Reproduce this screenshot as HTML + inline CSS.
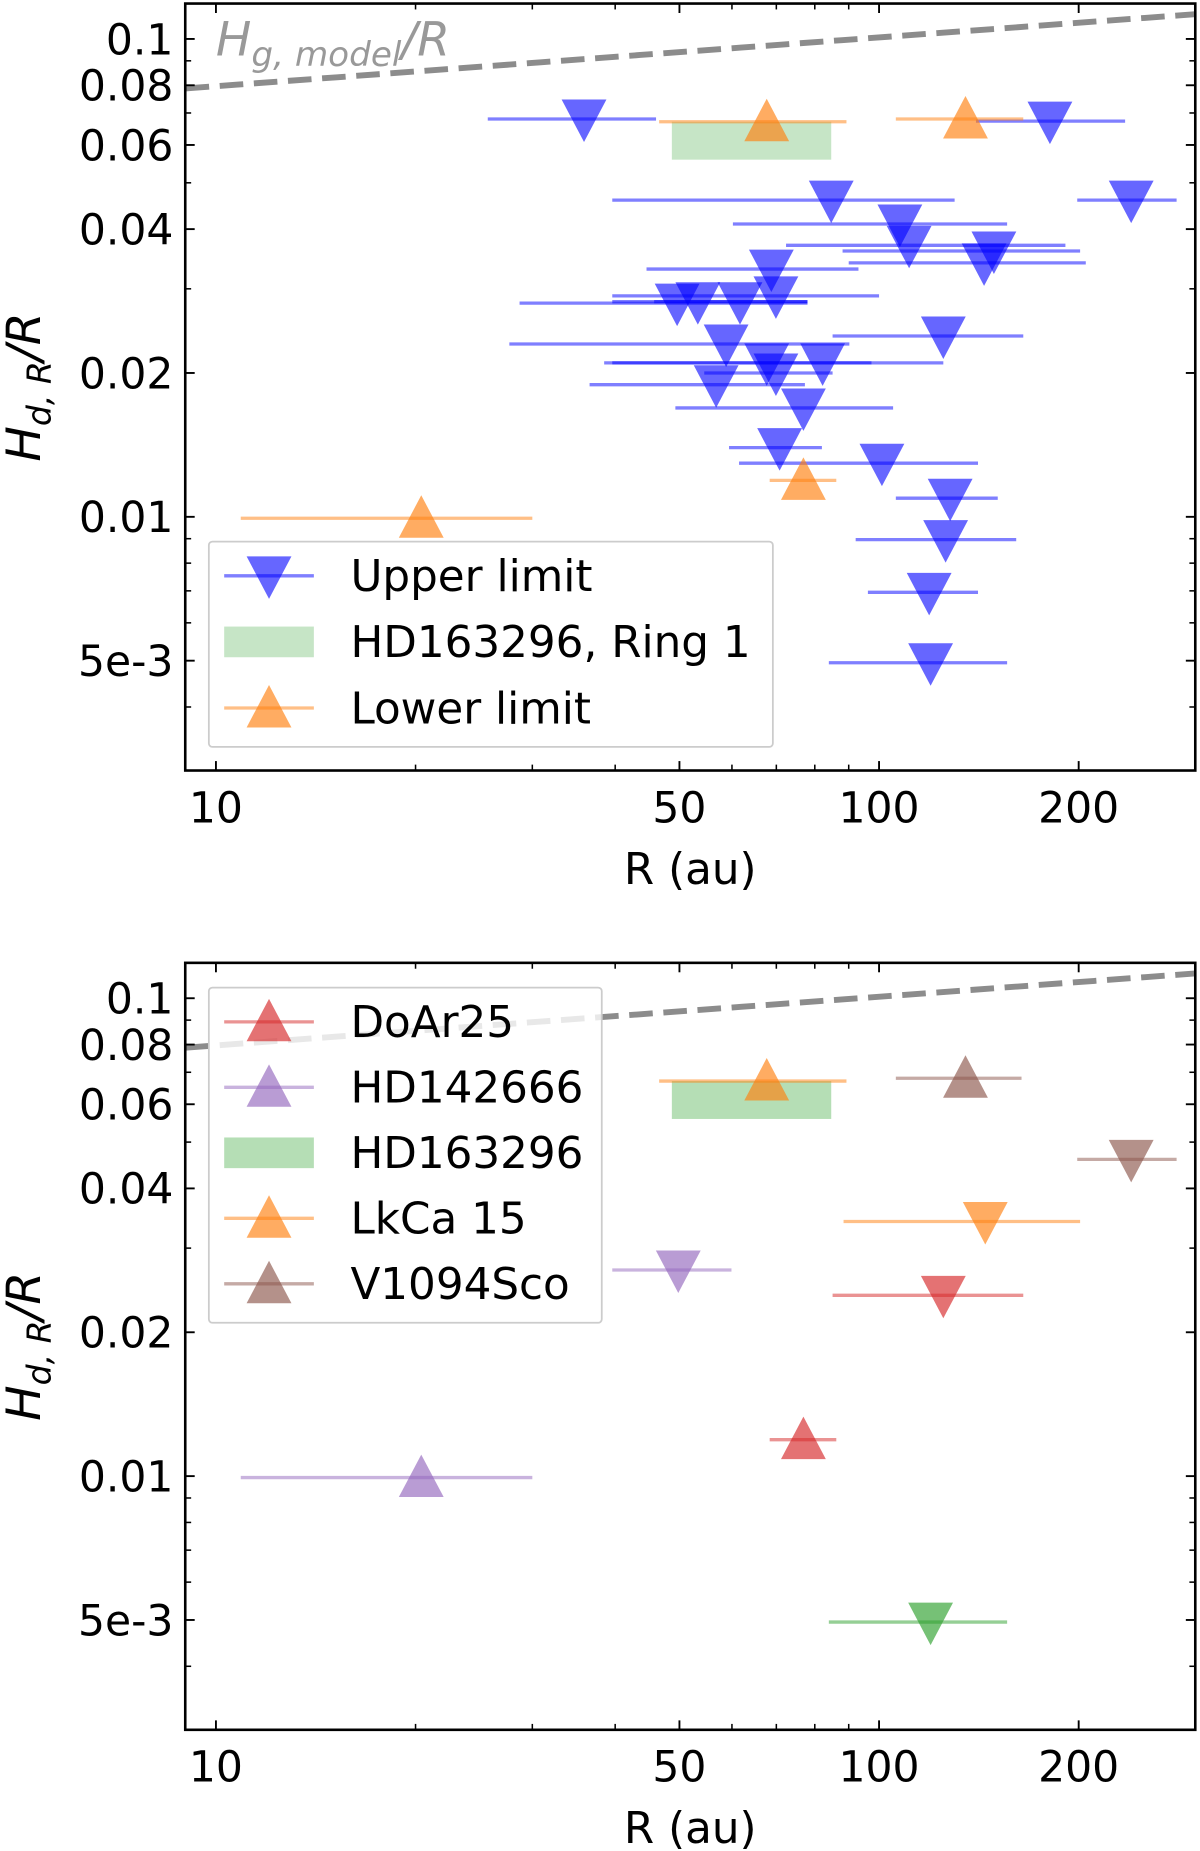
<!DOCTYPE html>
<html><head><meta charset="utf-8"><style>
html,body{margin:0;padding:0;background:#fff;}
svg{display:block;}
text{font-family:"DejaVu Sans","Liberation Sans",sans-serif;}
</style></head><body>
<svg id="fig" width="1200" height="1851" viewBox="0 0 1017 1568.7" xmlns="http://www.w3.org/2000/svg"></svg>
<script>
// ---- data (top panel) ----
const upperR   = [35.9,181,84.7,240,107.5,111,149,144,68.8,69.9,49.6,53.3,61.7,125,58.8,67.7,82.2,69.9,56.8,76.9,70.8,101,128,126,119,119.6];
const upperLo  = [25.7,140,39.6,199,60.2,72.4,88.1,90,44.6,39.6,28.7,39.6,45.8,85.1,27.7,38.5,39.6,54.5,36.6,49.3,59.4,61.5,106,92.2,96.2,84.0];
const upperHi  = [46.1,235,130,281,156,191,201,205,93.1,100,78.0,78.0,78.0,165,90.2,97.4,125,85.1,77.3,105,82.0,141,151,161,141,156];
const upperH   = [0.068,0.0673,0.046,0.046,0.041,0.037,0.036,0.034,0.033,0.029,0.028,0.0282,0.0282,0.0239,0.023,0.021,0.021,0.020,0.0189,0.0169,0.01396,0.01295,0.01094,0.00896,0.00695,0.00495];
const lowerR   = [67.7,135,76.9,20.4];
const lowerLo  = [46.6,106,68.4,10.9];
const lowerHi  = [89.3,165,86.2,30.0];
const lowerH   = [0.0671,0.068,0.01192,0.00993];
const ringR    = [48.7,84.7];
const ringH    = [0.0559,0.0671];
// ---- data (bottom panel) ----
const bNames   = ["DoAr25","DoAr25","HD142666","HD142666","HD163296","LkCa 15","LkCa 15","V1094Sco","V1094Sco"];
const bKind    = ["up","low","up","low","up","low","up","low","up"];
const bR       = [125,76.9,49.8,20.4,119.6,67.7,144.6,135,240];
const bLo      = [85.1,68.4,39.6,10.9,84.0,46.6,88.4,106,199];
const bHi      = [165,86.2,59.9,30.0,156,89.3,201,164,281];
const bH       = [0.0239,0.01192,0.0270,0.00993,0.00495,0.0671,0.0341,0.068,0.046];
const gas0 = 0.0788, gasSlope = 0.102; // H_g/R = gas0*(R/9)^slope
const xTicks = [10,50,100,200];
const xMinor = [20,30,40,60,70,80,90,300];
const yTicks = [0.1,0.08,0.06,0.04,0.02,0.01,0.005];
const yLabels = ["0.1","0.08","0.06","0.04","0.02","0.01","5e-3"];
const yMinor = [0.09,0.07,0.05,0.03,0.009,0.008,0.007,0.006,0.004];

const colors = {"DoAr25":"#d62728","HD142666":"#9467bd","HD163296":"#2ca02c","LkCa 15":"#ff7f0e","V1094Sco":"#8c564b"};
const NS="http://www.w3.org/2000/svg";
const svg=document.getElementById('fig');
function el(tag,attrs,parent){const e=document.createElementNS(NS,tag);for(const k in attrs)e.setAttribute(k,attrs[k]);(parent||svg).appendChild(e);return e;}
const L=157,Rr=1013;
const X=v=>183+562*(Math.log10(v)-1);
function makeY(top){return v=>top+441-3-405*(Math.log10(v)+2);}
function tri(g,x,y,up,fill,op,name){
  const s=19,h=16.5;
  const pts=up?`${x-s},${y+h} ${x+s},${y+h} ${x},${y-h-3}`:`${x-s},${y-h} ${x+s},${y-h} ${x},${y+h+3}`;
  const p=el('polygon',{points:pts,fill:fill,'fill-opacity':op},g);
  
  
}
function bar(g,x1,x2,y,c,op,name){
  const l=el('line',{x1:x1,x2:x2,y1:y,y2:y,stroke:c,'stroke-width':2.8,'stroke-opacity':op},g);
  
  
}
function axes(top,Y,panel){
  const g=el('g',{});
  
  
  const B=top+650;
  xTicks.forEach((v,i)=>{const x=X(v);
    el('line',{x1:x,x2:x,y1:B,y2:B-8,stroke:'#000','stroke-width':1.6},g);
    el('line',{x1:x,x2:x,y1:top,y2:top+8,stroke:'#000','stroke-width':1.6},g);
    const t=el('text',{x:x,y:B+44,'font-size':36,'text-anchor':'middle'},g);t.textContent=v;
    
    });
  xMinor.forEach(v=>{const x=X(v);if(x>Rr)return;
    el('line',{x1:x,x2:x,y1:B,y2:B-5,stroke:'#000','stroke-width':1.3},g);
    el('line',{x1:x,x2:x,y1:top,y2:top+5,stroke:'#000','stroke-width':1.3},g);});
  yTicks.forEach((v,i)=>{const y=Y(v);
    el('line',{x1:L,x2:L+8,y1:y,y2:y,stroke:'#000','stroke-width':1.6},g);
    el('line',{x1:Rr,x2:Rr-8,y1:y,y2:y,stroke:'#000','stroke-width':1.6},g);
    const t=el('text',{x:L-10,y:y+13,'font-size':36,'text-anchor':'end'},g);t.textContent=yLabels[i];
    
    });
  yMinor.forEach(v=>{const y=Y(v);
    el('line',{x1:L,x2:L+5,y1:y,y2:y,stroke:'#000','stroke-width':1.3},g);
    el('line',{x1:Rr,x2:Rr-5,y1:y,y2:y,stroke:'#000','stroke-width':1.3},g);});
  const xl=el('text',{x:585,y:B+96,'font-size':37,'text-anchor':'middle'},g);xl.textContent='R (au)';
  
  const yl=el('text',{x:0,y:0,'font-size':40,'font-style':'italic','text-anchor':'middle',transform:`translate(34,${top+325}) rotate(-90)`},g);
  yl.innerHTML='H<tspan font-size="28" dy="9">d, R</tspan><tspan dy="-9">/R</tspan>';
  
  return g;
}
function frame(top){const r=el('rect',{x:L,y:top,width:Rr-L,height:650,fill:'none',stroke:'#000','stroke-width':2.2});
  }
function gasLine(g,Y){
  const pts=[];for(let i=0;i<=20;i++){const r=9*Math.pow(300/9,i/20);pts.push(X(r)+','+Y(gas0*Math.pow(r/9,gasSlope)));}
  const p=el('polyline',{points:pts.join(' '),fill:'none',stroke:'#8c8c8c','stroke-width':5,'stroke-dasharray':'20 9'},g);
  
}
function clip(id,top){const c=el('clipPath',{id:id});el('rect',{x:L,y:top,width:Rr-L,height:650},c);}
// ---- top panel ----
(function(){
  const top=3,Y=makeY(0);clip('c1',top);
  const g=el('g',{'clip-path':'url(#c1)'});
  
  gasLine(g,Y);
  const gt=el('text',{x:183,y:47,'font-size':40,'font-style':'italic',fill:'#999'},g);
  gt.innerHTML='H<tspan font-size="29" dy="9">g, model</tspan><tspan dy="-9">/R</tspan>';
  
  const rr=el('rect',{x:X(ringR[0]),y:Y(ringH[1]),width:X(ringR[1])-X(ringR[0]),height:Y(ringH[0])-Y(ringH[1]),fill:'#2ca02c','fill-opacity':0.27},g);
  
  upperR.forEach((r,i)=>{bar(g,X(upperLo[i]),X(upperHi[i]),Y(upperH[i]),'#0000ff',0.5,'upper-limit-errorbar');});
  upperR.forEach((r,i)=>{tri(g,X(r),Y(upperH[i]),false,'#0000ff',0.6,'upper-limit-marker');});
  lowerR.forEach((r,i)=>{bar(g,X(lowerLo[i]),X(lowerHi[i]),Y(lowerH[i]),'#ff7f0e',0.5,'lower-limit-errorbar');
    tri(g,X(r),Y(lowerH[i]),true,'#ff7f0e',0.65,'lower-limit-marker');});
  axes(top,Y,'top');frame(top);
  const lg=el('g',{});
  el('rect',{x:177,y:459,width:478,height:174,rx:3,fill:'#fff','fill-opacity':0.8,stroke:'#ccc','stroke-width':1.5},lg);
  const items=[['Upper limit','#0000ff','up'],['HD163296, Ring 1','#2ca02c','rect'],['Lower limit','#ff7f0e','low']];
  items.forEach((it,i)=>{const y=488+i*56;
    if(it[2]==='rect'){el('rect',{x:190,y:y-13,width:76,height:26,fill:it[1],'fill-opacity':0.27},lg);}
    else{bar(lg,190,266,y,it[1],0.5,'legend-line');tri(lg,228,y,it[2]==='low',it[1],it[2]==='low'?0.65:0.6,'legend-marker');}
    const t=el('text',{x:297,y:y+13,'font-size':37},lg);t.textContent=it[0];
    });
})();
// ---- bottom panel ----
(function(){
  const top=816,Y=makeY(813);clip('c2',top);
  const g=el('g',{'clip-path':'url(#c2)'});
  
  gasLine(g,Y);
  const rr=el('rect',{x:X(ringR[0]),y:Y(ringH[1]),width:X(ringR[1])-X(ringR[0]),height:Y(ringH[0])-Y(ringH[1]),fill:'#2ca02c','fill-opacity':0.35},g);
  
  bR.forEach((r,i)=>{const c=colors[bNames[i]];
    bar(g,X(bLo[i]),X(bHi[i]),Y(bH[i]),c,0.5,'errorbar-'+bNames[i]);
    tri(g,X(r),Y(bH[i]),bKind[i]==='low',c,0.65,'marker-'+bNames[i]);});
  axes(top,Y,'bottom');frame(top);
  const lg=el('g',{});
  el('rect',{x:177,y:837,width:333,height:284,rx:3,fill:'#fff','fill-opacity':0.8,stroke:'#ccc','stroke-width':1.5},lg);
  const names=["DoAr25","HD142666","HD163296","LkCa 15","V1094Sco"];
  names.forEach((n,i)=>{const y=866+i*55.5;const c=colors[n];
    if(n==='HD163296'){el('rect',{x:190,y:y-13,width:76,height:26,fill:c,'fill-opacity':0.35},lg);}
    else{bar(lg,190,266,y,c,0.5,'legend-line');tri(lg,228,y,true,c,0.65,'legend-marker');}
    const t=el('text',{x:297,y:y+13,'font-size':37},lg);t.textContent=n;
    });
})();
</script>
</body></html>
